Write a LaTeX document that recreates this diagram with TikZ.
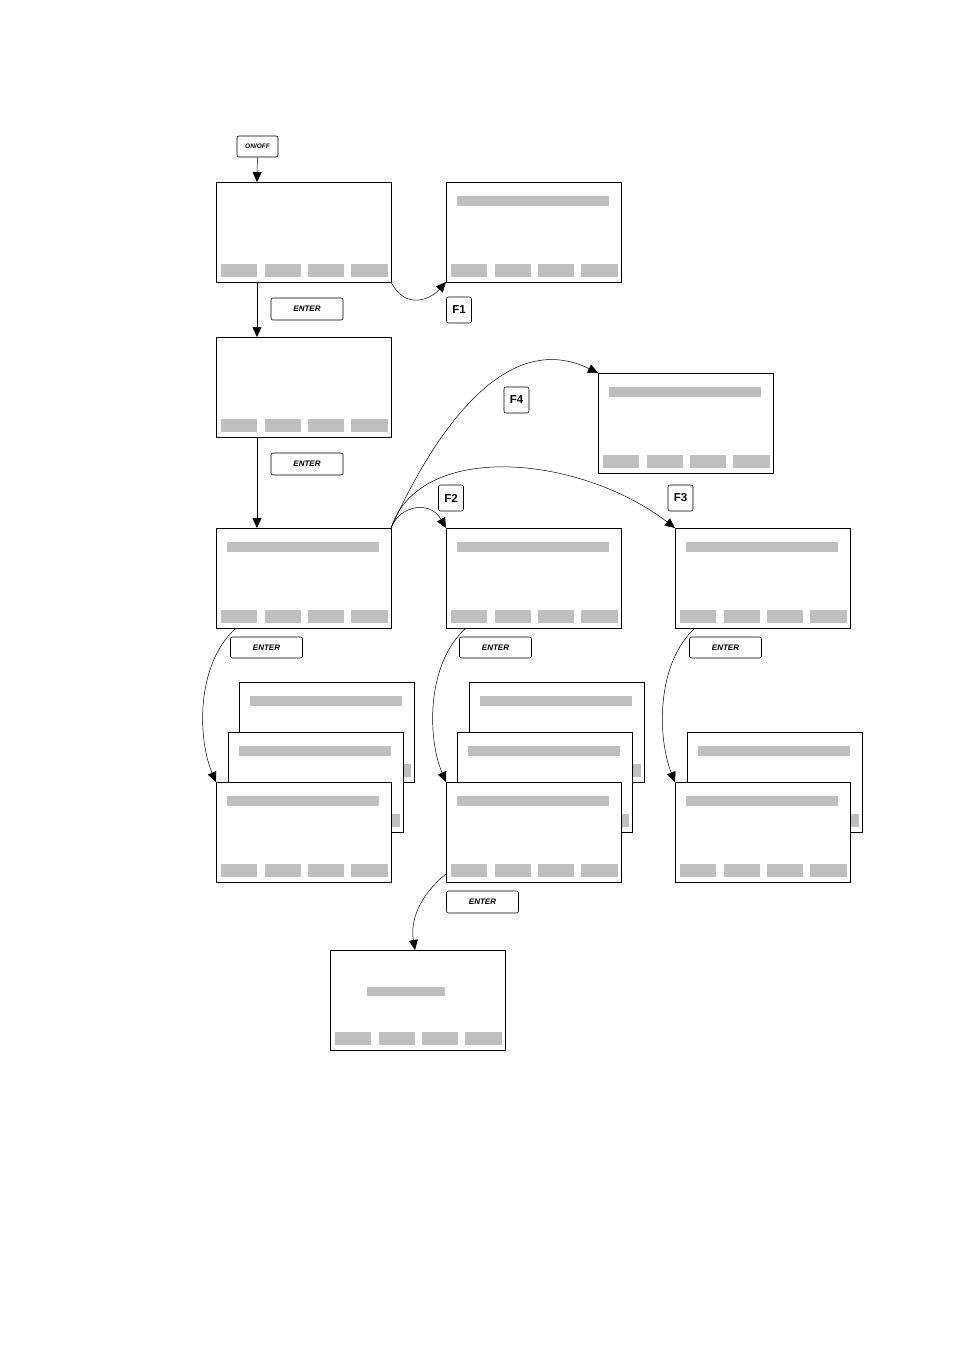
\documentclass[tikz,border=0pt]{standalone}
\usepackage{fontspec}
\setmainfont{Liberation Sans}
\usetikzlibrary{arrows.meta}
\begin{document}
\begin{tikzpicture}[x=1pt,y=-1pt,
  scr/.style={draw,fill=white,line width=0.7pt},
  bar/.style={fill=black!25},
  key/.style={draw,rounded corners=2pt,line width=0.6pt,inner sep=0pt,font=\bfseries\itshape\fontsize{8}{9}\selectfont},
  fkey/.style={draw,rounded corners=2pt,line width=0.6pt,minimum width=25pt,minimum height=26pt,inner sep=0pt,font=\bfseries\fontsize{11.5}{13}\selectfont},
  arr/.style={line width=0.5pt,-{Triangle[length=10pt,width=9pt]}}]
\useasboundingbox (0,0) rectangle (954,1351);
\newcommand{\screen}[4]{% name, x, y, top bar (1/0)
  \draw[scr] (#2,#3) rectangle (#2+175,#3+100);
  \coordinate (#1tl) at (#2,#3);
  \coordinate (#1tr) at (#2+175,#3);
  \coordinate (#1bl) at (#2,#3+100);
  \coordinate (#1br) at (#2+175,#3+100);
  \foreach \a/\b in {5/41,49/85,92/128,135/172}
    \fill[bar] (#2+\a,#3+82) rectangle (#2+\b,#3+95);
  \ifnum#4=1 \fill[bar] (#2+11,#3+14) rectangle (#2+163,#3+24);\fi}
\screen{sA}{216}{182}{0}
\screen{sB}{446}{182}{1}
\screen{sC}{216}{337}{0}
\screen{sD}{598}{373}{1}
\screen{sE}{216}{528}{1}
\screen{sF}{446}{528}{1}
\screen{sG}{675}{528}{1}
\screen{pA3}{239}{682}{1}
\screen{pA2}{228}{732}{1}
\screen{pA1}{216}{782}{1}
\screen{pB3}{469}{682}{1}
\screen{pB2}{457}{732}{1}
\screen{pB1}{446}{782}{1}
\screen{pC2}{687}{732}{1}
\screen{pC1}{675}{782}{1}
\screen{sH}{330}{950}{0}
\fill[bar] (367,987) rectangle (445,996);
\node[key,minimum width=41pt,minimum height=21pt,font=\bfseries\itshape\fontsize{6.5}{7}\selectfont] (onoff) at (257.5,146.5) {ON/OFF};
\node[key,minimum width=72pt,minimum height=22pt] (e1) at (307,309) {ENTER};
\node[key,minimum width=72pt,minimum height=22pt] (e2) at (307,464) {ENTER};
\node[key,minimum width=72pt,minimum height=21pt] (e3) at (266.5,647.5) {ENTER};
\node[key,minimum width=72pt,minimum height=21pt] (e4) at (495.5,647.5) {ENTER};
\node[key,minimum width=72pt,minimum height=21pt] (e5) at (725.5,647.5) {ENTER};
\node[key,minimum width=72pt,minimum height=22pt] (e6) at (482.5,902) {ENTER};
\node[fkey] (f1) at (459,310) {F1};
\node[fkey] (f4) at (516.5,400) {F4};
\node[fkey] (f2) at (451,498) {F2};
\node[fkey] (f3) at (680.5,498) {F3};
\coordinate (sAt) at (257,182);
\coordinate (sAb) at (257,282);
\coordinate (sCt) at (257,337);
\coordinate (sCb) at (257,437);
\coordinate (sEt) at (257,528);
\draw[arr] (onoff) -- (sAt);
\draw[arr] (sAb) -- (sCt);
\draw[arr] (sCb) -- (sEt);
\draw[arr] (sAbr) .. controls (405,310) and (430,300) .. (sBbl);
\draw[arr] (sEtr) .. controls (440,420) and (510,330) .. (sDtl);
\draw[arr] (sEtr) .. controls (400,505) and (430,500) .. (sFtl);
\draw[arr] (sEtr) .. controls (420,440) and (580,455) .. (sGtl);
\coordinate (eE) at (236,628);
\coordinate (eF) at (466,628);
\coordinate (eG) at (695,628);
\coordinate (eP) at (446,874);
\coordinate (hT) at (415,950);
\draw[arr] (eE) .. controls (195,665) and (198,740) .. (pA1tl);
\draw[arr] (eF) .. controls (425,665) and (428,740) .. (pB1tl);
\draw[arr] (eG) .. controls (655,665) and (658,740) .. (pC1tl);
\draw[arr] (eP) .. controls (420,895) and (410,920) .. (hT);
\end{tikzpicture}
\end{document}
